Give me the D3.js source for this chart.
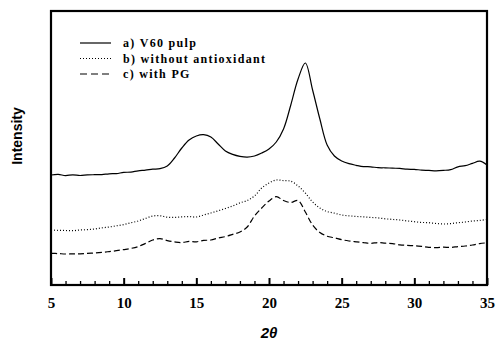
<!DOCTYPE html>
<html>
<head>
<meta charset="utf-8">
<script src="https://cdn.jsdelivr.net/npm/d3@7"></script>
<style>
  body { margin: 0; background: #fff; }
  svg { display: block; }
</style>
</head>
<body>
<div id="chart"></div>
<script>
// 2-theta positions (degrees) and intensities (arbitrary units)
const twoTheta = [5, 5.5, 6, 6.5, 7, 7.5, 8, 8.5, 9, 9.5, 10, 10.5, 11, 11.5, 12, 12.5, 13, 13.5, 14, 14.5,
    15, 15.5, 16, 16.5, 17, 17.5, 18, 18.5, 19, 19.5, 20, 20.5, 21, 21.5, 22, 22.5, 23, 23.5, 24, 24.5,
    25, 25.5, 26, 26.5, 27, 27.5, 28, 28.5, 29, 29.5, 30, 30.5, 31, 31.5, 32, 32.5, 33, 33.5, 34, 34.5, 35];

const pulp = [110, 110.6, 109.4, 110.2, 109.5, 110.1, 110.3, 110.4, 111.2, 111.4, 112.6, 112.9, 114.2, 114.8, 115.8, 116.3, 119, 127, 137, 145,
    149, 150.3, 148, 141, 134, 130.6, 128.6, 127.8, 129, 132, 136, 143, 156, 180, 206, 222, 195, 166, 140, 129,
    124, 121.3, 119.7, 118.4, 118.2, 117.3, 117.2, 116.8, 116.6, 115.8, 115.6, 114.9, 114.6, 114.2, 114.6, 115.4, 118.2, 119.3, 121.6, 123.8, 120];

const noAntiox = [55, 54.6, 54.5, 54.3, 55, 55.4, 56, 57.1, 58, 59.2, 60.4, 62.2, 64, 66.6, 69, 69.2, 67.8, 67.6, 68.1, 68.4,
    68, 70, 72, 74.2, 76.5, 79, 82.1, 84.5, 89, 97, 102, 105, 104.4, 103.8, 99, 92, 83, 77, 73.5, 71.8,
    70, 69.2, 68.6, 68.1, 67.6, 67.1, 66.2, 65.6, 65, 64.1, 63.3, 62.6, 62.3, 61.5, 61, 61.4, 62.3, 63, 64, 64.6, 65.5];

const withPG = [31.7, 31.4, 31, 31.1, 31.2, 31.6, 32, 32.6, 33.4, 34.3, 35.4, 36.6, 38.4, 41.6, 45, 46.4, 44.4, 43.1, 42.4, 43.6,
    43.2, 44.6, 45, 47, 48.4, 50.6, 53, 58, 69, 77, 84, 88.3, 84.5, 82.5, 84.5, 73, 60, 52.5, 48.8, 47.2,
    45.3, 44, 43.2, 42.4, 41.6, 42.5, 41.8, 41.4, 40.2, 39.6, 39.3, 38.6, 37.7, 37.4, 37.8, 37.6, 38.4, 39, 40, 41.4, 42.2];

const seriesNames = ["a) V60 pulp", "b) without antioxidant", "c) with PG"];
const xTicks = [5, 10, 15, 20, 25, 30, 35];

const W = 497, H = 340;
const margin = {top: 11, right: 10, bottom: 55, left: 51};

const svg = d3.select("#chart")
    .append("svg")
    .attr("width", W)
    .attr("height", H);

const x = d3.scaleLinear()
    .domain([5, 35])
    .range([margin.left, W - margin.right]);

const y = d3.scaleLinear()
    .domain([0, 274])
    .range([H - margin.bottom, margin.top]);

const dashes = [null, "1,2", "6,3"];
const allSeries = [pulp, noAntiox, withPG];

const line = d3.line()
    .x(function (d, i) { return x(twoTheta[i]); })
    .y(function (d) { return y(d); })
    .curve(d3.curveCatmullRom.alpha(0.5));

// curves
svg.selectAll(".curve")
    .data(allSeries)
    .enter()
    .append("path")
    .attr("class", "curve")
    .attr("d", line)
    .attr("fill", "none")
    .attr("stroke", "#000")
    .attr("stroke-width", 1.2)
    .attr("stroke-dasharray", function (d, i) { return dashes[i]; });

// frame
svg.append("rect")
    .attr("x", x(5))
    .attr("y", y(274))
    .attr("width", x(35) - x(5))
    .attr("height", y(0) - y(274))
    .attr("fill", "none")
    .attr("stroke", "#000")
    .attr("stroke-width", 2.2);

// bottom ticks pointing inward
const minor = d3.range(5, 36, 1).filter(function (d) { return d % 5 !== 0; });
svg.append("g")
    .attr("transform", "translate(0," + y(0) + ")")
    .call(d3.axisBottom(x).tickValues(minor).tickSize(-4).tickFormat(""))
    .call(function (g) { g.select(".domain").remove(); })
    .selectAll("line").attr("stroke-width", 1.3);

const majorAxis = svg.append("g")
    .attr("transform", "translate(0," + y(0) + ")")
    .call(d3.axisBottom(x).tickValues(xTicks).tickSize(-7).tickPadding(12).tickFormat(d3.format("d")));
majorAxis.select(".domain").remove();
majorAxis.selectAll("line").attr("stroke-width", 2);
majorAxis.selectAll("text")
    .attr("font-family", "'Liberation Serif', 'Times New Roman', serif")
    .attr("font-weight", "bold")
    .attr("font-size", 15)
    .attr("fill", "#000");

// axis titles
svg.append("text")
    .attr("transform", "translate(22,136) rotate(-90)")
    .attr("text-anchor", "middle")
    .attr("font-family", "'Liberation Sans', Arial, sans-serif")
    .attr("font-weight", "bold")
    .attr("font-size", 14)
    .text("Intensity");

svg.append("text")
    .attr("x", x(20))
    .attr("y", 338)
    .attr("text-anchor", "middle")
    .attr("font-family", "'Liberation Sans', Arial, sans-serif")
    .attr("font-weight", "bold")
    .attr("font-style", "italic")
    .attr("font-size", 15)
    .text("2θ");

// legend
const legend = svg.append("g").attr("transform", "translate(80,43)");
const rows = legend.selectAll(".row")
    .data(seriesNames)
    .enter()
    .append("g")
    .attr("class", "row")
    .attr("transform", function (d, i) { return "translate(0," + (i * 15.5) + ")"; });

rows.append("line")
    .attr("x1", 0)
    .attr("x2", 31)
    .attr("stroke", "#000")
    .attr("stroke-width", 1.2)
    .attr("stroke-dasharray", function (d, i) { return i === 2 ? "7,4" : dashes[i]; });

rows.append("text")
    .attr("x", 43)
    .attr("dy", "0.35em")
    .attr("font-family", "'Liberation Serif', 'Times New Roman', serif")
    .attr("font-weight", "bold")
    .attr("font-size", 12)
    .attr("letter-spacing", 1.3)
    .text(function (d) { return d; });
</script>
</body>
</html>
